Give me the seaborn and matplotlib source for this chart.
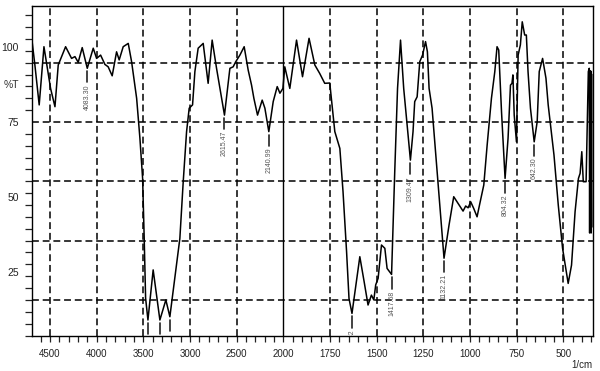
import numpy as np
import pandas as pd
import matplotlib
matplotlib.use("Agg")
import matplotlib.pyplot as plt
import seaborn as sns

# ---------------- data ----------------
wavenumber = [4690, 4661, 4615, 4564, 4493, 4446, 4411, 4332, 4268, 4232, 4197, 4154,
              4100, 4036, 4000, 3957, 3911, 3876, 3833, 3786, 3758, 3715, 3661, 3625,
              3571, 3536, 3507, 3490, 3475, 3450, 3394, 3322, 3258, 3215, 3108, 3072,
              3036, 3008, 2972, 2947, 2912, 2858, 2805, 2762, 2715, 2630, 2572, 2537,
              2511, 2465, 2419, 2376, 2340, 2315, 2276, 2226, 2197, 2155, 2108, 2065,
              2036, 2004, 1992, 1965, 1929, 1897, 1862, 1831, 1805, 1778, 1751, 1724,
              1697, 1680, 1661, 1648, 1632, 1590, 1567, 1546, 1528, 1515, 1505, 1492,
              1474, 1456, 1444, 1420, 1403, 1388, 1372, 1355, 1340, 1319, 1305, 1296,
              1283, 1269, 1254, 1238, 1228, 1219, 1203, 1183, 1162, 1139, 1112, 1087,
              1064, 1037, 1023, 1010, 996, 980, 962, 948, 926, 908, 885, 867,
              855, 846, 831, 812, 796, 783, 775, 770, 763, 751, 742, 730,
              720, 707, 698, 689, 676, 656, 640, 629, 611, 593, 581, 550,
              527, 504, 474, 456, 437, 419, 410, 401, 393, 378, 366, 361,
              359, 357, 355, 353, 351, 349, 347]
transmittance = [101.6, 94.0, 80.7, 100.1, 86.2, 80.1, 94.0, 100.1, 96.2, 96.8, 94.9, 99.8,
                 92.9, 99.6, 96.2, 97.3, 94.2, 93.4, 90.4, 98.4, 95.7, 100.1, 101.2, 95.1,
                 82.9, 69.6, 56.2, 36.2, 16.3, 9.0, 25.7, 9.0, 15.7, 10.1, 36.2, 55.1,
                 71.8, 79.6, 80.7, 91.8, 99.6, 101.2, 87.9, 102.3, 92.9, 77.3, 92.9, 93.4,
                 95.0, 97.3, 100.1, 92.3, 87.3, 82.9, 77.3, 82.3, 79.6, 71.8, 81.8, 86.8,
                 84.6, 86.2, 93.4, 86.2, 102.3, 90.1, 102.9, 94.0, 91.2, 87.9, 88.0, 71.8,
                 66.2, 51.8, 31.8, 16.2, 11.2, 30.1, 21.8, 14.0, 17.3, 15.7, 20.7, 22.9,
                 34.0, 32.9, 26.2, 24.2, 58.4, 86.2, 102.3, 86.2, 76.2, 62.3, 71.8, 81.8,
                 83.4, 95.1, 97.3, 101.8, 98.4, 86.2, 79.6, 64.0, 47.3, 29.6, 40.7, 50.1,
                 47.9, 45.3, 47.0, 46.4, 48.4, 46.2, 43.4, 47.6, 54.0, 67.3, 82.9, 91.8,
                 100.1, 99.0, 78.4, 56.2, 69.6, 87.3, 87.9, 90.7, 77.3, 68.4, 97.3, 100.7,
                 108.4, 104.0, 104.0, 91.8, 79.6, 68.4, 75.1, 91.8, 96.2, 89.6, 80.7, 64.0,
                 47.3, 32.9, 21.2, 27.3, 45.1, 56.2, 57.9, 65.1, 55.1, 55.1, 91.8, 92.9,
                 38.0, 92.0, 39.0, 92.0, 38.0, 91.0, 40.0]

peak_x = [4100, 2630, 2155, 1632, 1420, 1319, 1139, 812, 656, 3450, 3322, 3215]
peak_t = [92.9, 77.3, 71.8, 11.2, 24.2, 62.3, 29.6, 56.2, 68.4, 9.0, 9.0, 10.1]
peak_text = ["4083.30", "2615.47", "2140.99", "1635.32", "1417.68", "1309.47",
             "1132.21", "804.32", "642.30", "", "", ""]

x_ticks = [4500, 4000, 3500, 3000, 2500, 2000, 1750, 1500, 1250, 1000, 750, 500]
y_ticks = [100, 75, 50, 25]

# ---------------- figure ----------------
sns.set_style("ticks")
plt.rcParams["font.family"] = ["Liberation Sans", "DejaVu Sans"]

fig = plt.figure(figsize=(6.0, 3.71), dpi=100)
ax = fig.add_axes([32 / 600, 1 - 336 / 371, 561 / 600, 330 / 371])

df = pd.DataFrame({"wn": wavenumber, "t": transmittance})
sns.lineplot(data=df, x="wn", y="t", ax=ax, color="black", lw=1.1,
             sort=False, estimator=None, zorder=5)


def fwd(x):
    x = np.asarray(x, dtype=float)
    return np.where(x > 2000, 2000 + (x - 2000) / 2.0, x)


def inv(u):
    u = np.asarray(u, dtype=float)
    return np.where(u > 2000, 2000 + 2.0 * (u - 2000), u)


ax.set_xscale("function", functions=(fwd, inv))
ax.set_xlim(4692, 341)
ax.set_ylim(3.67, 113.67)

# ticks
ax.set_xticks(x_ticks)
ax.set_xticklabels([str(t) for t in x_ticks])
minor_x = [v for v in range(4600, 2000, -100) if v % 500 != 0] + \
          [v for v in range(1950, 340, -50) if v % 250 != 0]
ax.set_xticks(minor_x, minor=True)

ax.set_yticks(y_ticks)
ax.set_yticklabels([str(t) for t in y_ticks])
grid_step = 19.77
minor_y = 75 + grid_step / 5 * np.arange(-18, 10)
ax.set_yticks(minor_y, minor=True)

ax.tick_params(axis="x", which="both", direction="out", length=4, width=0.9,
               pad=5.5, labelsize=7, colors="#222", top=False)
ax.tick_params(axis="y", which="major", length=0, pad=9.4, labelsize=7.5,
               colors="#222", right=False)
ax.tick_params(axis="y", which="minor", direction="out", length=5, width=0.9,
               color="#222", right=False)
for s in ax.spines.values():
    s.set_visible(True)
    s.set_color("black")
    s.set_linewidth(1.0)

ax.set_xlabel("")
ax.set_ylabel("")

# gridlines
dash = (0, (4.5, 2.5))
for t in x_ticks:
    if t == 2000:
        ax.axvline(t, color="black", lw=1.0, zorder=3)
    else:
        ax.axvline(t, color="black", lw=1.1, ls=dash, zorder=3)
for k in range(-3, 2):
    ax.axhline(75 + k * grid_step, color="black", lw=1.1, ls=dash, zorder=3)

# peak labels
for x, t, s in zip(peak_x, peak_t, peak_text):
    ax.plot([x, x], [t - 1.0, t - 4.7], color="#222", lw=1.2, zorder=6)
    if s:
        ax.text(x, t - 5.3, s, rotation=90, ha="center", va="top", fontsize=5,
                color="#555", clip_on=True, zorder=6)

ax.text(-0.023, 87.3, "%T", transform=ax.get_yaxis_transform(), ha="right",
        va="center", fontsize=7.5, color="#333")
fig.text(592 / 600, 1 - 365 / 371, "1/cm", ha="right", va="center",
         fontsize=7, color="#222")

fig.savefig("out.png", dpi=100)
